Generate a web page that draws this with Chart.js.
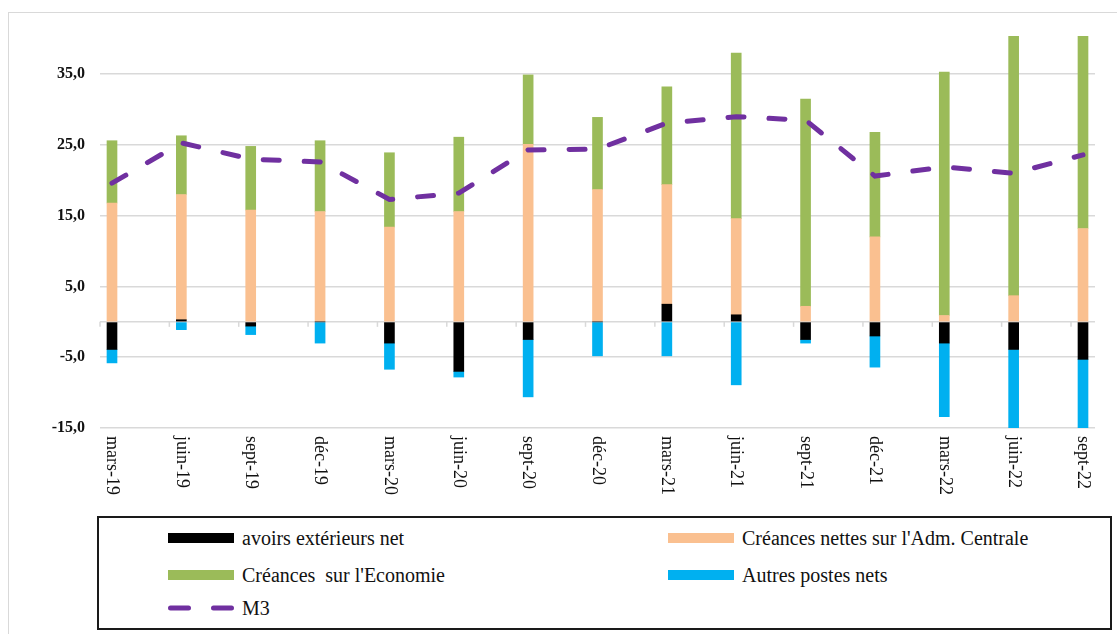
<!DOCTYPE html>
<html>
<head>
<meta charset="utf-8">
<script src="https://cdn.jsdelivr.net/npm/chart.js@4.4.1/dist/chart.umd.min.js"></script>
<style>
html, body { margin: 0; padding: 0; background: #fff; }
#wrap { position: relative; width: 1117px; height: 634px; overflow: hidden; font-family: 'Liberation Serif', 'Times New Roman', serif; }
#frame { position: absolute; left: 8px; top: 12px; width: 1140px; height: 660px; border: 1px solid #d9d9d9; box-sizing: border-box; }
#chart { position: absolute; left: 0; top: 0; }
#legend { position: absolute; left: 97px; top: 516px; width: 1015px; height: 114px; border: 2px solid #1a1a1a; box-sizing: border-box; background: #fff; }
.item { position: absolute; height: 24px; display: flex; align-items: center; font-size: 20px; color: #111; white-space: pre; }
.sw { width: 66px; height: 10px; margin-right: 8px; flex: none; }
</style>
</head>
<body>
<div id="wrap">
  <div id="frame"></div>
  <canvas id="chart" width="1117" height="634"></canvas>
  <div id="legend"></div>
</div>
<script>
// données
const categories = ['mars-19', 'juin-19', 'sept-19', 'déc-19', 'mars-20', 'juin-20', 'sept-20', 'déc-20',
                    'mars-21', 'juin-21', 'sept-21', 'déc-21', 'mars-22', 'juin-22', 'sept-22'];
const avoirsExt = [-3.9, 0.3, -0.6, 0.0, -3.0, -7.0, -2.5, 0.0, 2.5, 1.0, -2.5, -2.0, -3.0, -3.9, -5.3];
const creancesAdm = [16.8, 17.7, 15.8, 15.6, 13.4, 15.6, 25.1, 18.7, 16.9, 13.6, 2.2, 12.0, 0.9, 3.7, 13.2];
const creancesEco = [8.8, 8.3, 9.0, 10.0, 10.5, 10.5, 9.8, 10.2, 13.8, 23.4, 29.3, 14.8, 34.4, 38.3, 28.8];
const autresPostes = [-1.9, -1.1, -1.2, -3.0, -3.7, -0.8, -8.1, -4.8, -4.8, -8.9, -0.5, -4.4, -10.4, -12.0, -11.0];
const m3 = [19.6, 25.3, 23.0, 22.6, 17.3, 18.2, 24.3, 24.4, 28.1, 29.0, 28.5, 20.6, 21.9, 21.0, 23.6];
const yTicks = [-15, -5, 0, 5, 15, 25, 35];

const xPad = 0.173;   // marge avant la 1re / après la dernière barre
const pts = arr => arr.map((v, i) => ({ x: i, y: v }));

// étiquettes de l'axe des x, tournées vers la droite (lecture de haut en bas)
const xLabels = {
    id: 'xLabels',
    afterDraw(chart) {
        const { ctx, chartArea, scales: { x, y } } = chart;
        const y0 = y.getPixelForValue(0);
        ctx.save();
        ctx.strokeStyle = '#d9d9d9';
        ctx.lineWidth = 1.5;
        categories.forEach((c, i) => {
            const px = x.getPixelForValue(i - xPad);
            ctx.beginPath();
            ctx.moveTo(px, y0);
            ctx.lineTo(px, y0 + 5);
            ctx.stroke();
        });
        ctx.fillStyle = '#111';
        ctx.font = '18px "Liberation Serif"';
        ctx.textAlign = 'left';
        ctx.textBaseline = 'middle';
        categories.forEach((c, i) => {
            ctx.save();
            ctx.translate(x.getPixelForValue(i), chartArea.bottom + 8);
            ctx.rotate(Math.PI / 2);
            ctx.fillText(c, 0, 0);
            ctx.restore();
        });
        ctx.restore();
    }
};

const chart = new Chart(document.getElementById('chart'), {
    type: 'bar',
    data: {
        datasets: [
            { type: 'line', label: 'M3', data: pts(m3), borderColor: '#7030A0', borderWidth: 5,
              borderDash: [16, 25], borderCapStyle: 'round', pointRadius: 0, tension: 0, fill: false, stack: 'm3', order: 0 },
            { label: 'avoirs extérieurs net', data: pts(avoirsExt), backgroundColor: '#000000', stack: 's', order: 1 },
            { label: "Créances nettes sur l'Adm. Centrale", data: pts(creancesAdm), backgroundColor: '#FAC090', stack: 's', order: 1 },
            { label: "Créances  sur l'Economie", data: pts(creancesEco), backgroundColor: '#9BBB59', stack: 's', order: 1 },
            { label: 'Autres postes nets', data: pts(autresPostes), backgroundColor: '#00B0F0', stack: 's', order: 1 }
        ]
    },
    options: {
        responsive: false,
        animation: false,
        layout: { padding: { left: 0, right: 22, top: 36, bottom: 206 } },
        plugins: { legend: { display: false }, tooltip: { enabled: false } },
        datasets: { bar: { barThickness: 10, grouped: false } },
        scales: {
            x: { type: 'linear', display: false, offset: false, min: -xPad, max: categories.length - 1 + xPad },
            y: {
                stacked: true, min: -15, max: 40.4,
                afterBuildTicks: s => { s.ticks = yTicks.map(v => ({ value: v })); },
                afterFit: s => { s.width = 100; },
                grid: { color: '#d9d9d9', lineWidth: 1.5, drawTicks: false },
                border: { display: false },
                ticks: {
                    padding: 15, color: '#111',
                    font: { family: 'Liberation Serif', size: 16, weight: 'bold' },
                    callback: v => v === 0 ? '' : v.toFixed(1).replace('.', ',')
                }
            }
        }
    },
    plugins: [xLabels]
});

// légende en deux colonnes
function buildLegend() {
    const box = document.getElementById('legend');
    const byLabel = {};
    chart.data.datasets.forEach(ds => { byLabel[ds.label] = ds; });
    const layout = [
        ['avoirs extérieurs net', 69, 20], ["Créances nettes sur l'Adm. Centrale", 569, 20],
        ["Créances  sur l'Economie", 69, 57], ['Autres postes nets', 569, 57],
        ['M3', 69, 90]
    ];
    layout.forEach(([label, left, cy]) => {
        const ds = byLabel[label];
        const item = document.createElement('div');
        item.className = 'item';
        item.style.left = left + 'px';
        item.style.top = (cy - 12) + 'px';
        let sw;
        if (ds.type === 'line') {
            sw = `<svg class="sw" viewBox="0 0 66 10"><line x1="2.5" y1="5" x2="63.5" y2="5" stroke="${ds.borderColor}"
                  stroke-width="5" stroke-linecap="round" stroke-dasharray="18 25"/></svg>`;
        } else {
            sw = `<div class="sw" style="background:${ds.backgroundColor}"></div>`;
        }
        item.innerHTML = sw + '<span></span>';
        item.querySelector('span').textContent = label;
        box.appendChild(item);
    });
}
buildLegend();
</script>
</body>
</html>
